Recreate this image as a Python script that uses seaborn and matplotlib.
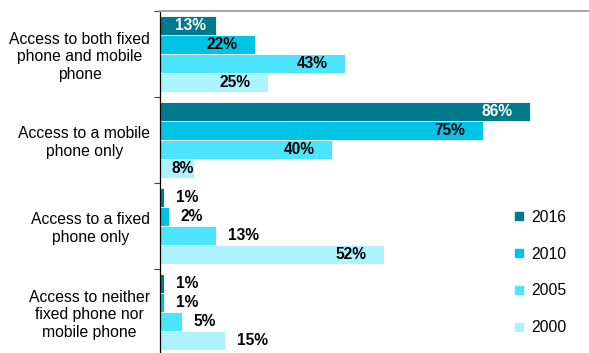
import matplotlib
matplotlib.use("Agg")
import matplotlib.pyplot as plt
from matplotlib.lines import Line2D
import seaborn as sns
import pandas as pd

# ---- data ----
categories = [
    "Access to both fixed\nphone and mobile\nphone",
    "Access to a mobile\nphone only",
    "Access to a fixed\nphone only",
    "Access to neither\nfixed phone nor\nmobile phone",
]
years = ["2016", "2010", "2005", "2000"]
v2016 = [13, 86, 1, 1]
v2010 = [22, 75, 2, 1]
v2005 = [43, 40, 13, 5]
v2000 = [25, 8, 52, 15]

# ---- styles ----
colors = ["#007A8C", "#00C4E6", "#4DE4FF", "#ADF2FF"]
label_colors = ["white", "black", "black", "black"]
outside = {(2, 0), (2, 1), (2, 2), (3, 0), (3, 1), (3, 2), (3, 3)}  # (category idx, year idx)

plt.rcParams["font.family"] = ["Liberation Sans", "DejaVu Sans"]

series = [v2016, v2010, v2005, v2000]
rows = []
for y, vals in zip(years, series):
    for c, v in zip(categories, vals):
        rows.append({"category": c, "year": y, "value": v})
df = pd.DataFrame(rows)

W, H = 589, 353
fig = plt.figure(figsize=(W / 100, H / 100), dpi=100)
ax = fig.add_axes([160 / W, (H - 355) / H, 430 / W, 344 / H])

sns.barplot(data=df, y="category", x="value", hue="year", order=categories,
            hue_order=years, palette=colors, width=0.88, orient="h", ax=ax,
            saturation=1, edgecolor="white", linewidth=0.6, legend=False)

ax.set_xlim(0, 100)
ax.set_ylim(3.5, -0.5)
ax.set_xticks([])
ax.set_xlabel("")
ax.set_ylabel("")
ax.set_yticks([-0.5, 0.5, 1.5, 2.5, 3.5])
ax.set_yticklabels([])
ax.set_yticks(range(len(categories)), minor=True)
ax.set_yticklabels(categories, minor=True, fontsize=11.3)
for t in ax.get_yticklabels(minor=True):
    t.set_multialignment("center")
ax.tick_params(axis="y", which="minor", length=0, pad=7)
ax.tick_params(axis="y", which="major", length=4, width=0.8, color="#404040")
ax.spines["right"].set_visible(False)
ax.spines["bottom"].set_visible(False)
ax.spines["top"].set_color("#A6A6A6")
ax.spines["top"].set_linewidth(1.4)
ax.spines["left"].set_color("black")
ax.spines["left"].set_linewidth(0.9)
ax.set_facecolor("white")

fig.canvas.draw()
renderer = fig.canvas.get_renderer()
fs = 11.2
for j, cont in enumerate(ax.containers):
    for i, bar in enumerate(cont):
        w = bar.get_width()
        yc = bar.get_y() + bar.get_height() / 2
        txt = f"{w:.0f}%"
        if (i, j) in outside:
            ax.annotate(txt, xy=(w, yc), xytext=(12 * 0.72, 0), textcoords="offset points",
                        ha="left", va="center", fontsize=fs, fontweight="bold", color="black")
        else:
            tmp = ax.text(0, 0, txt, fontsize=fs, fontweight="bold")
            tw = tmp.get_window_extent(renderer).width
            tmp.remove()
            bpx = ax.transData.transform((w, 0))[0] - ax.transData.transform((0, 0))[0]
            gap = min(17, max(1, bpx - tw - 15))
            ax.annotate(txt, xy=(w, yc), xytext=(-gap * 0.72, 0), textcoords="offset points",
                        ha="right", va="center", fontsize=fs, fontweight="bold",
                        color=label_colors[j])

handles = [Line2D([], [], marker="s", linestyle="", markersize=5.8,
                  markerfacecolor=c, markeredgecolor=c) for c in colors]
fig.legend(handles, years, loc="center left",
           bbox_to_anchor=(512.75 / W, 1 - 272.5 / H), frameon=False,
           fontsize=11.3, labelspacing=1.4, handletextpad=0.37, handlelength=0.8,
           borderpad=0, borderaxespad=0)

fig.savefig("out.png", dpi=100, facecolor="white")
